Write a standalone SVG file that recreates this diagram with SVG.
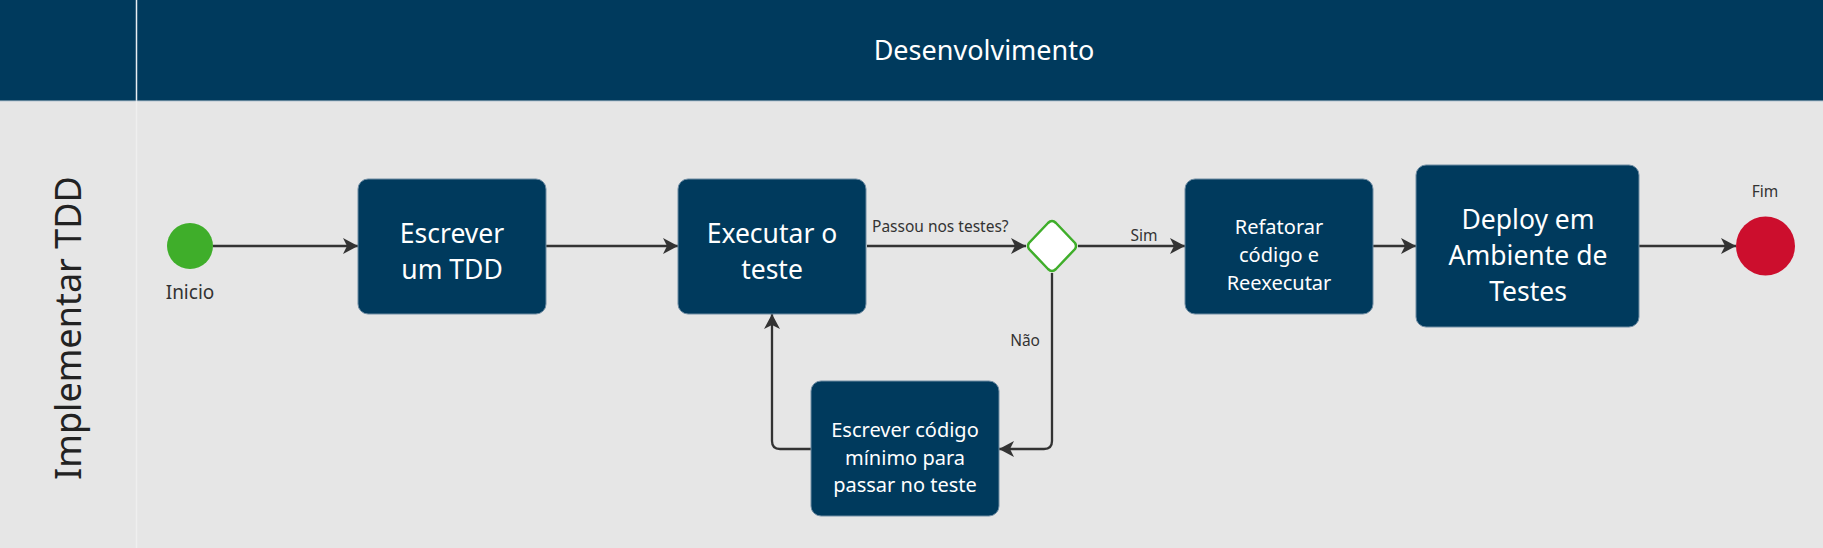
<svg xmlns="http://www.w3.org/2000/svg" width="1823" height="548" viewBox="0 0 1823 548">
<defs>
<style>
.hdr{fill:#003a5d}
.box{fill:#003a5d;stroke:#6f8ca3;stroke-width:1}
.bt{fill:#ffffff;font-family:"Noto Sans","Open Sans",sans-serif;text-anchor:middle}
.lbl{fill:#333333;font-family:"Noto Sans","Open Sans",sans-serif;font-size:15.5px}
.conn{fill:none;stroke:#333333;stroke-width:2.3}
</style>
<marker id="arr" markerUnits="userSpaceOnUse" markerWidth="18" markerHeight="18" refX="15" refY="8" orient="auto">
<path d="M0,0 L15,8 L0,16 L4,8 Z" fill="#333333"/>
</marker>
</defs>
<rect x="0" y="0" width="1823" height="548" fill="#e6e6e6"/>
<g id="header">
<rect class="hdr" x="0" y="0" width="1823" height="101"/>
<line x1="136.5" y1="0" x2="136.5" y2="101" stroke="#e8eef3" stroke-width="1.5"/>
<line x1="0" y1="101" x2="1823" y2="101" stroke="#b8c6d1" stroke-width="1"/>
<text x="984" y="60" class="bt" font-size="27">Desenvolvimento</text>
</g>
<g id="lane">
<line x1="136.5" y1="101" x2="136.5" y2="548" stroke="#efefef" stroke-width="1.5"/>
<text transform="translate(81,328) rotate(-90)" fill="#222222" font-family="'Noto Sans','Open Sans',sans-serif" font-size="36" text-anchor="middle">Implementar TDD</text>
</g>
<g id="connectors">
<path class="conn" d="M213,246 H358" marker-end="url(#arr)"/>
<path class="conn" d="M546,246 H678" marker-end="url(#arr)"/>
<path class="conn" d="M867,246 H1026" marker-end="url(#arr)"/>
<path class="conn" d="M1078,246 H1185" marker-end="url(#arr)"/>
<path class="conn" d="M1373,246 H1416" marker-end="url(#arr)"/>
<path class="conn" d="M1639,246 H1736" marker-end="url(#arr)"/>
<path class="conn" d="M1052,273 V441 Q1052,449 1044,449 H999" marker-end="url(#arr)"/>
<path class="conn" d="M811,449 H780 Q772,449 772,441 V314" marker-end="url(#arr)"/>
<text class="lbl" x="872" y="232">Passou nos testes?</text>
<text class="lbl" x="1144" y="241" text-anchor="middle">Sim</text>
<text class="lbl" x="1040" y="346" text-anchor="end">Não</text>
</g>
<g id="start">
<circle cx="190" cy="246" r="23" fill="#3fae2a"/>
<text x="190" y="299" fill="#333333" font-family="'Noto Sans','Open Sans',sans-serif" font-size="19" text-anchor="middle">Inicio</text>
</g>
<g id="escrever-tdd">
<rect class="box" x="358" y="179" width="188" height="135" rx="10"/>
<text class="bt" font-size="26.5"><tspan x="452" y="243">Escrever</tspan><tspan x="452" y="279">um TDD</tspan></text>
</g>
<g id="executar-teste">
<rect class="box" x="678" y="179" width="188" height="135" rx="10"/>
<text class="bt" font-size="26.5"><tspan x="772" y="243">Executar o</tspan><tspan x="772" y="279">teste</tspan></text>
</g>
<g id="gateway">
<path d="M1052,221 Q1054,221 1056,223 L1075,243 Q1077,246 1075,249 L1056,269 Q1052,273 1048,269 L1029,249 Q1027,246 1029,243 L1048,223 Q1050,221 1052,221 Z" fill="#ffffff" stroke="#3fae2a" stroke-width="2.5"/>
</g>
<g id="refatorar">
<rect class="box" x="1185" y="179" width="188" height="135" rx="10"/>
<text class="bt" font-size="20"><tspan x="1279" y="234">Refatorar</tspan><tspan x="1279" y="262">código e</tspan><tspan x="1279" y="290">Reexecutar</tspan></text>
</g>
<g id="deploy">
<rect class="box" x="1416" y="165" width="223" height="162" rx="10"/>
<text class="bt" font-size="26.5"><tspan x="1528" y="229">Deploy em</tspan><tspan x="1528" y="265">Ambiente de</tspan><tspan x="1528" y="301">Testes</tspan></text>
</g>
<g id="escrever-codigo">
<rect class="box" x="811" y="381" width="188" height="135" rx="10"/>
<text class="bt" font-size="20"><tspan x="905" y="437">Escrever código</tspan><tspan x="905" y="465">mínimo para</tspan><tspan x="905" y="492">passar no teste</tspan></text>
</g>
<g id="end">
<circle cx="1765.5" cy="246" r="29.5" fill="#cc0e2d"/>
<text class="lbl" x="1765" y="197" text-anchor="middle">Fim</text>
</g>
</svg>
